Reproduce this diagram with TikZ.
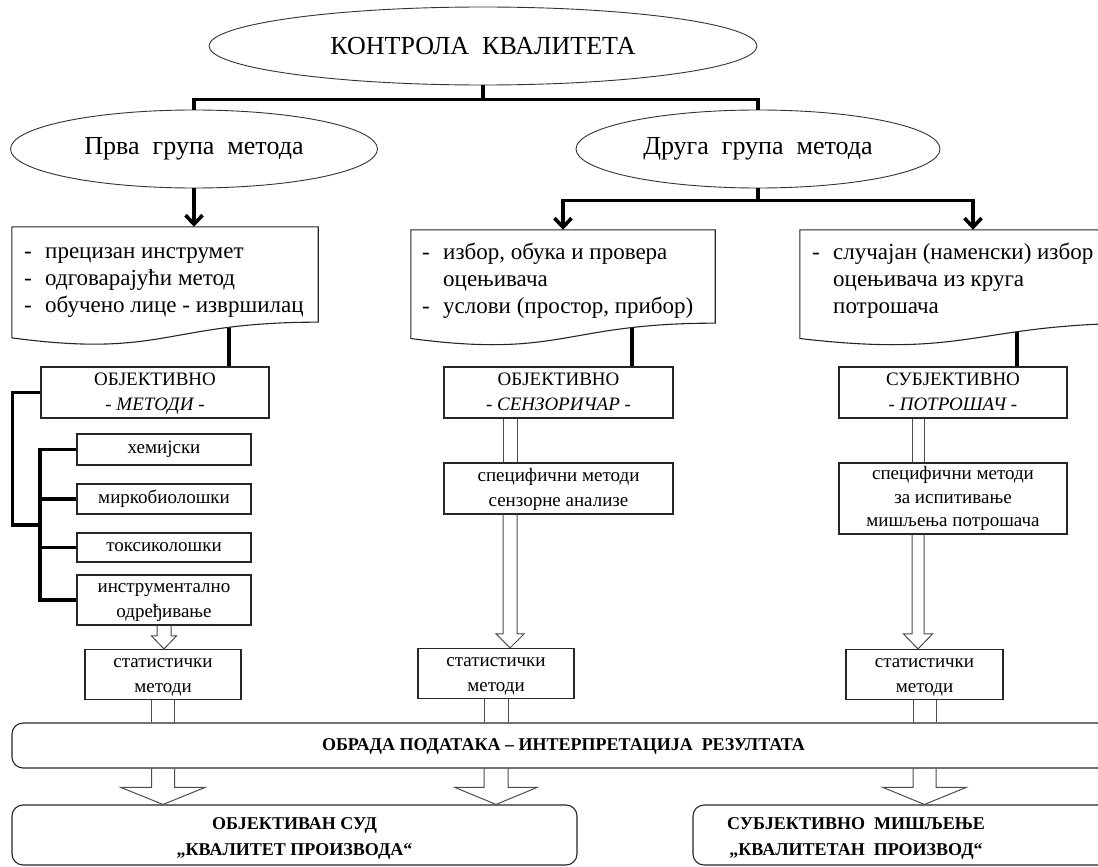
\documentclass[tikz,border=0pt]{standalone}
\usepackage{fontspec}
\setmainfont{Liberation Serif}
\usetikzlibrary{arrows.meta,shapes.geometric,calc}
\newcommand{\wsp}{\hspace{0.5em}}
\newcommand{\docpath}[1]{%
  \draw[doc] (#1.north west) -- (#1.north east) -- ($(#1.north east)!0.802!(#1.south east)$)
    .. controls ($(#1.north)!0.802!(#1.south)$) and ($(#1.north)!1.107!(#1.south)$) ..
    ($(#1.north west)!0.934!(#1.south west)$) -- cycle;}
\newcommand{\harr}[5]{%
  \draw[harrow] let \p1=(#1), \p2=(#2) in
    (\x1-#3pt,\y1) -- (\x1-#3pt,\y2+#5pt) -- (\x1-#4pt,\y2+#5pt) -- (\x1,\y2)
    -- (\x1+#4pt,\y2+#5pt) -- (\x1+#3pt,\y2+#5pt) -- (\x1+#3pt,\y1);}
\newcommand{\hshaft}[3]{%
  \draw[harrow] let \p1=(#1), \p2=(#2) in
    (\x1-#3pt,\y1) -- (\x1-#3pt,\y2) (\x1+#3pt,\y1) -- (\x1+#3pt,\y2);}
\tikzset{
  ell/.style={ellipse, draw=black!80, line width=0.9pt, inner sep=0pt, fill=white,
    font=\fontsize{26}{30}\selectfont},
  box/.style={rectangle, draw=black!85, line width=1.1pt, inner sep=0pt, align=center, fill=white,
    font=\fontsize{19}{25}\selectfont},
  rbox/.style={box, rounded corners=11pt},
  btext/.style={align=center, inner sep=0pt, font=\bfseries\fontsize{18}{26}\selectfont},
  conn/.style={line width=3.6pt, black},
  arr/.style={conn, -{Straight Barb[length=9pt,width=17pt]}},
  harrow/.style={draw=black!70, line width=1pt},
  doc/.style={draw=black!85, line width=1.1pt, fill=white},
  docn/.style={rectangle, draw=none, inner sep=0pt},
  doctext/.style={anchor=north west, inner sep=0pt, align=left, font=\fontsize{23}{27}\selectfont}
}
\begin{document}
\begin{tikzpicture}[x=1pt,y=-1pt]
\useasboundingbox (0,0) rectangle (1098,867);
\clip (0,0) rectangle (1098,867);

% ellipses
\node[ell, minimum width=548pt, minimum height=78pt] (top) at (483,46) {КОНТРОЛА\wsp КВАЛИТЕТА};
\node[ell, minimum width=367pt, minimum height=78pt] (g1) at (194,149) {Прва\wsp група\wsp метода};
\node[ell, minimum width=364pt, minimum height=78pt] (g2) at (758,149) {Друга\wsp група\wsp метода};

% document shapes (placeholders)
\node[docn, minimum width=306pt, minimum height=118.5pt] (d1) at (165,286.25) {};
\node[docn, minimum width=304pt, minimum height=116pt] (d2) at (563,288) {};
\node[docn, minimum width=346pt, minimum height=116pt] (d3) at (973,288) {};

% second row boxes
\node[box, minimum width=228pt, minimum height=51pt] (o1) at (155,392.5) {\strut ОБЈЕКТИВНО\\\strut\textit{- МЕТОДИ -}};
\node[box, minimum width=229pt, minimum height=51pt] (o2) at (558.5,392.5) {\strut ОБЈЕКТИВНО\\\strut\textit{- СЕНЗОРИЧАР -}};
\node[box, minimum width=228pt, minimum height=51pt] (o3) at (953,392.5) {\strut СУБЈЕКТИВНО\\\strut\textit{- ПОТРОШАЧ -}};

% left sub boxes
\node[box, minimum width=174pt, minimum height=31pt] (h1) at (164,449.5) {хемијски};
\node[box, minimum width=174pt, minimum height=30pt] (h2) at (164,499) {миркобиолошки};
\node[box, minimum width=174pt, minimum height=29pt] (h3) at (164,547.5) {токсиколошки};
\node[box, minimum width=174pt, minimum height=46pt] (h4) at (164,600) {\strut инструментално\\\strut одређивање};

% specific boxes
\node[box, minimum width=229pt, minimum height=51pt] (p2) at (558.5,488.5) {\strut специфични методи\\\strut сензорне анализе};
\node[box, minimum width=228pt, minimum height=71pt, font=\fontsize{19}{23.5}\selectfont] (p3) at (953,498.5) {\strut специфични методи\\\strut за испитивање\\\strut мишљења потрошача};

% statistics boxes
\node[box, minimum width=156pt, minimum height=45pt] (s1) at (163,674.5) {\strut статистички\\\strut методи};
\node[box, minimum width=156pt, minimum height=45pt] (s2) at (496,673.5) {\strut статистички\\\strut методи};
\node[box, minimum width=157pt, minimum height=45pt] (s3) at (924.5,674.5) {\strut статистички\\\strut методи};

% processing and result boxes
\node[rbox, minimum width=1103pt, minimum height=45pt] (ob) at (563.5,745.5) {};
\node[btext] (obt) at (563.5,746) {ОБРАДА ПОДАТАКА – ИНТЕРПРЕТАЦИЈА\wsp РЕЗУЛТАТА};
\node[rbox, minimum width=565pt, minimum height=60pt] (bl) at (294.5,835) {};
\node[btext] (blt) at (294.5,837) {\strut ОБЈЕКТИВАН СУД\\\strut„КВАЛИТЕТ ПРОИЗВОДА“};
\node[rbox, minimum width=422pt, minimum height=60pt] (br) at (904,835) {};
\node[btext] (brt) at (856,837) {\strut СУБЈЕКТИВНО\wsp МИШЉЕЊЕ\\\strut„КВАЛИТЕТАН\wsp ПРОИЗВОД“};

% thick connectors
\draw[conn] (top.south) -- ++(0,14) -| (g1.north);
\draw[conn] (top.south) -- ++(0,14) -| (g2.north);
\draw[arr] (g1.south) -- (g1.south |- d1.north);
\draw[arr] (g2.south) -- ++(0,12) -| (d2.north);
\draw[arr] (g2.south) -- ++(0,12) -| (d3.north);
\draw[conn] ([xshift=74pt]o1.north) -- ([xshift=74pt]o1.north |- d1.center);
\draw[conn] ([xshift=73.5pt]o2.north) -- ([xshift=73.5pt]o2.north |- d2.center);
\draw[conn] ([xshift=64pt]o3.north) -- ([xshift=64pt]o3.north |- d3.center);

% document shapes drawn over the connector ends
\docpath{d1}
\docpath{d2}
\docpath{d3}
\node[doctext] (d1t) at (24,239) {\begin{tabular}{@{}p{21pt}@{}l@{}}-&прецизан инструмет\\-&одговарајући метод\\-&обучено лице - извршилац\end{tabular}};
\node[doctext] (d2t) at (422,240) {\begin{tabular}{@{}p{21pt}@{}l@{}}-&избор, обука и провера\\&оцењивача\\-&услови (простор, прибор)\end{tabular}};
\node[doctext] (d3t) at (812,240) {\begin{tabular}{@{}p{21pt}@{}l@{}}-&случајан (наменски) избор\\&оцењивача из круга\\&потрошача\end{tabular}};

% bracket on the left
\coordinate (jn) at (40,525);
\draw[conn] (o1.west) -- ++(-28,0) |- (jn);
\draw[conn] (h1.west) -| (jn |- h4.west) -- (h4.west);
\draw[conn] (h2.west) -- (h2.west -| jn);
\draw[conn] (h3.west) -- (h3.west -| jn);

% hollow arrows
\harr{h4.south}{s1.north}{7}{12.5}{13}
\hshaft{s1.south}{s1.south |- ob.north}{11.5}
\harr{s1.south |- ob.south}{s1.south |- bl.north}{11.5}{42}{17}

\hshaft{[xshift=-48.5pt]o2.south}{[xshift=-48.5pt]p2.north}{7}
\harr{[xshift=-48.5pt]p2.south}{s2.north}{7}{14}{14}
\hshaft{s2.south}{s2.south |- ob.north}{12}
\harr{s2.south |- ob.south}{s2.south |- bl.north}{12}{41}{17}

\hshaft{[xshift=-35pt]o3.south}{[xshift=-35pt]p3.north}{6}
\harr{[xshift=-35pt]p3.south}{s3.north}{6}{14.5}{15}
\hshaft{s3.south}{s3.south |- ob.north}{11.5}
\harr{s3.south |- ob.south}{s3.south |- br.north}{11.5}{41.5}{17}
\end{tikzpicture}
\end{document}
